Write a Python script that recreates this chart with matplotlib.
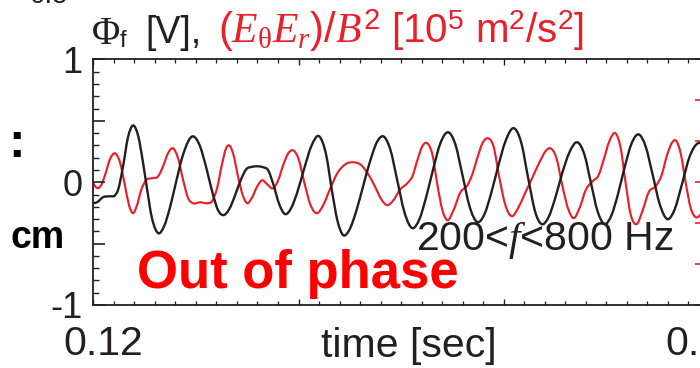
import numpy as np
import matplotlib
matplotlib.use("Agg")
import matplotlib.pyplot as plt
import matplotlib.transforms as mtransforms
from matplotlib.path import Path
from matplotlib.patches import PathPatch
from matplotlib.ticker import FixedLocator, FixedFormatter, NullFormatter

plt.rcParams['font.family'] = ['Liberation Sans', 'DejaVu Sans']
plt.rcParams['mathtext.fontset'] = 'custom'
plt.rcParams['mathtext.rm'] = 'Liberation Sans'
plt.rcParams['mathtext.it'] = 'Liberation Serif:italic'
plt.rcParams['mathtext.sf'] = 'Liberation Serif'
plt.rcParams['mathtext.bf'] = 'Liberation Sans:bold'

INK = '#231f20'
RED = '#e8202a'

# ---- band-passed (200-800 Hz) signals -------------------------------------
# floating potential, left axis [V]
phi_t_ms = [120.00, 120.18, 120.47, 120.81, 121.06, 121.20, 121.45, 121.69, 121.94, 122.18,
            122.42, 122.57, 122.86, 123.16, 123.45, 123.74, 124.03, 124.38, 124.86, 125.20,
            125.50, 125.84, 126.08, 126.33, 126.62, 126.91, 127.20, 127.50, 127.64, 128.03,
            128.28, 128.52, 128.77, 129.06, 129.35, 129.64, 129.94, 130.28, 130.62, 131.01,
            131.35, 131.64, 131.89, 132.18, 132.47, 132.81, 133.16, 133.50, 133.84, 134.13,
            134.47, 134.81, 135.16, 135.55, 135.89, 136.23, 136.57, 136.91, 137.30, 137.64,
            137.99, 138.33, 138.72, 139.06, 139.40, 139.74, 140.08, 140.52, 140.86, 141.20,
            141.55, 141.84, 142.18, 142.52, 142.86, 143.20, 143.60, 143.94, 144.23, 144.57,
            144.91, 145.25, 145.55, 145.89, 146.23, 146.57, 146.91, 147.25, 147.60, 147.99,
            148.33, 148.67, 149.06, 149.45, 149.84]
phi_v = [-0.171, -0.163, -0.122, -0.114, -0.106, -0.065, 0.130, 0.366, 0.463, 0.382,
         0.163, 0.000, -0.293, -0.415, -0.358, -0.203, 0.000, 0.228, 0.374, 0.293,
         0.122, -0.106, -0.228, -0.268, -0.220, -0.106, 0.024, 0.114, 0.122, 0.130,
         0.122, 0.098, -0.016, -0.179, -0.260, -0.211, -0.081, 0.114, 0.293, 0.374,
         0.220, -0.081, -0.309, -0.431, -0.390, -0.236, -0.024, 0.179, 0.333, 0.374,
         0.268, 0.016, -0.244, -0.374, -0.301, -0.114, 0.114, 0.317, 0.407, 0.309,
         0.057, -0.195, -0.325, -0.260, -0.081, 0.138, 0.333, 0.439, 0.317, 0.024,
         -0.252, -0.341, -0.285, -0.122, 0.081, 0.244, 0.325, 0.220, 0.008, -0.236,
         -0.341, -0.268, -0.106, 0.122, 0.317, 0.390, 0.293, 0.065, -0.179, -0.301,
         -0.220, -0.024, 0.211, 0.317, 0.293]

# Reynolds-stress proxy (E_theta E_r)/B^2, right axis [1e5 m^2/s^2]
rs_t_ms = [120.00, 120.13, 120.23, 120.38, 120.57, 120.81, 121.06, 121.30, 121.55, 121.74,
           121.94, 122.13, 122.33, 122.57, 122.86, 123.16, 123.40, 123.64, 123.89, 124.13,
           124.38, 124.62, 124.86, 125.20, 125.55, 125.79, 126.03, 126.28, 126.47, 126.62,
           126.81, 127.06, 127.30, 127.50, 127.74, 127.99, 128.23, 128.47, 128.77, 129.01,
           129.25, 129.50, 129.74, 129.99, 130.28, 130.57, 130.91, 131.20, 131.55, 131.89,
           132.28, 132.67, 133.06, 133.40, 133.74, 134.03, 134.33, 134.62, 134.96, 135.30,
           135.55, 135.79, 136.03, 136.28, 136.52, 136.77, 137.01, 137.25, 137.55, 137.89,
           138.23, 138.47, 138.72, 138.96, 139.25, 139.50, 139.79, 140.08, 140.38, 140.72,
           141.06, 141.40, 141.79, 142.03, 142.28, 142.57, 142.86, 143.16, 143.40, 143.69,
           143.99, 144.33, 144.62, 144.86, 145.16, 145.45, 145.69, 145.94, 146.18, 146.47,
           146.77, 147.06, 147.40, 147.69, 147.94, 148.18, 148.38, 148.62, 148.87, 149.11,
           149.35, 149.60, 149.84]
rs_v = [-0.024, -0.122, -0.146, -0.073, 0.171, 0.561, 0.707, 0.488, -0.098, -0.561,
        -0.756, -0.561, -0.195, 0.049, 0.098, 0.146, 0.390, 0.707, 0.829, 0.585,
        0.049, -0.390, -0.512, -0.488, -0.512, -0.463, -0.146, 0.463, 0.829, 0.902,
        0.707, 0.122, -0.341, -0.512, -0.366, -0.098, 0.049, -0.049, -0.146, 0.049,
        0.415, 0.707, 0.780, 0.585, 0.000, -0.537, -0.756, -0.561, -0.146, 0.220,
        0.439, 0.488, 0.415, 0.195, -0.122, -0.415, -0.561, -0.439, -0.171, -0.024,
        0.146, 0.537, 0.878, 0.951, 0.683, -0.073, -0.683, -0.927, -0.683, -0.244,
        -0.073, 0.195, 0.610, 0.951, 1.073, 0.878, 0.098, -0.561, -0.829, -0.610,
        -0.244, 0.122, 0.537, 0.756, 0.829, 0.585, -0.098, -0.683, -0.878, -0.634,
        -0.195, 0.024, 0.171, 0.537, 1.024, 1.195, 0.854, -0.024, -0.780, -1.024,
        -0.683, -0.244, -0.098, 0.171, 0.634, 0.951, 1.024, 0.707, -0.024, -0.634,
        -0.854, -0.780, -0.561]

x_major = [0.12, 0.13, 0.14, 0.15]
x_labels = {0.12: '0.12', 0.15: '0.15'}
y_major = [-1.0, -0.5, 0.0, 0.5, 1.0]
y_labels = ['-1', '', '0', '', '1']
y2_major = [-3, -2, -1, 0, 1, 2, 3]


def smooth_path(x, y):
    """Cubic Hermite curve through the samples as a Bezier path."""
    x = np.asarray(x, float)
    y = np.asarray(y, float)
    m = np.gradient(y, x)
    verts = [(x[0], y[0])]
    codes = [Path.MOVETO]
    for i in range(len(x) - 1):
        h = x[i + 1] - x[i]
        verts += [(x[i] + h / 3, y[i] + m[i] * h / 3),
                  (x[i + 1] - h / 3, y[i + 1] - m[i + 1] * h / 3),
                  (x[i + 1], y[i + 1])]
        codes += [Path.CURVE4] * 3
    return Path(verts, codes)


W, H = 700, 368
fig = plt.figure(figsize=(W / 100, H / 100), dpi=100)
x0, x1, ytop, ybot = 93.3, 709.0, 59.5, 305.0
ax = fig.add_axes([x0 / W, 1 - ybot / H, (x1 - x0) / W, (ybot - ytop) / H])
ax2 = ax.twinx()
ax.set_zorder(ax2.get_zorder() + 1)
ax.patch.set_visible(False)

t_phi = np.asarray(phi_t_ms) / 1000.0
t_rs = np.asarray(rs_t_ms) / 1000.0

ax2.add_patch(PathPatch(smooth_path(t_rs, rs_v), fill=False, edgecolor=RED,
                        lw=1.55, capstyle='round', joinstyle='round'))
ax.add_patch(PathPatch(smooth_path(t_phi, phi_v), fill=False, edgecolor=INK,
                       lw=1.7, capstyle='round', joinstyle='round'))

ax.set_xlim(0.12, 0.15)
ax.set_ylim(-1, 1)
ax2.set_ylim(-3, 3)

ax.xaxis.set_major_locator(FixedLocator(x_major))
ax.xaxis.set_minor_locator(FixedLocator(np.round(np.arange(0.12, 0.1505, 0.001), 4)))
ax.xaxis.set_major_formatter(NullFormatter())
ax.yaxis.set_major_locator(FixedLocator(y_major))
ax.yaxis.set_major_formatter(FixedFormatter(y_labels))
ax.yaxis.set_minor_locator(FixedLocator(np.round(np.arange(-1, 1.001, 0.1), 2)))

ax.tick_params(axis='x', which='major', direction='in', length=4.5, width=1.0,
               top=True, bottom=True, color=INK)
ax.tick_params(axis='x', which='minor', direction='in', length=2.8, width=0.9,
               top=True, bottom=True, color=INK)
ax.tick_params(axis='y', which='major', direction='in', length=8.5, width=1.2,
               left=True, right=False, labelsize=26, pad=8, color=INK, labelcolor=INK)
ax.tick_params(axis='y', which='minor', direction='in', length=4.5, width=1.0,
               left=True, right=False, color=INK)

ax2.yaxis.set_major_locator(FixedLocator(y2_major))
ax2.tick_params(axis='y', which='both', direction='in', length=10, width=1.2,
                color=RED, labelright=False, left=False)
ax2.tick_params(axis='x', which='both', bottom=False, top=False,
                labelbottom=False)
for side in ('left', 'top', 'bottom'):
    ax2.spines[side].set_visible(False)
ax2.spines['right'].set_color(INK)
ax2.spines['right'].set_linewidth(1.3)

for sp in ax.spines.values():
    sp.set_color(INK)
    sp.set_linewidth(1.3)
ax.spines['right'].set_visible(False)

# x tick labels (only the end values are labelled)
base = mtransforms.blended_transform_factory(ax.transData, ax.transAxes)
for xv, dx in ((0.12, 10), (0.15, -4)):
    off = mtransforms.ScaledTranslation(dx / 100, 0, fig.dpi_scale_trans)
    ax.text(xv, (ybot - 355) / (ybot - ytop), x_labels[xv], transform=base + off,
            ha='center', va='baseline', fontsize=29.5, color=INK, clip_on=False)

fig.text(408.5 / W, 1 - 357 / H, 'time [sec]', ha='center', va='baseline',
         fontsize=29.5, color=INK)

# header: black quantity
fig.text(91 / W, 1 - 44 / H, r'$\mathsf{\Phi}$', ha='left', va='baseline',
         fontsize=28, color=INK)
fig.text(120 / W, 1 - 47 / H, 'f', ha='left', va='baseline',
         fontsize=17, color=INK)
fig.text(145 / W, 1 - 43 / H, '[V],', ha='left', va='baseline',
         fontsize=27, color=INK)
# header: red quantity
fig.text(218 / W, 1 - 43 / H,
         r'$\mathit{(E}_{\mathsf{\theta}}\mathit{E}_{\mathit{r}}\mathit{)/B}^{2}$',
         ha='left', va='baseline', fontsize=30, color=RED)
fig.text(391 / W, 1 - 43 / H, r'[10$^{5}$ m$^{2}$/s$^{2}$]',
         ha='left', va='baseline', fontsize=29, color=RED)

fig.text(137 / W, 1 - 288 / H, 'Out of phase', ha='left', va='baseline',
         fontsize=38, fontweight='bold', color='#ff0000')
fig.text(416 / W, 1 - 250 / H, r'200<$\mathit{f}$<800 Hz', ha='left',
         va='baseline', fontsize=29.5, color=INK)

# fragments of the neighbouring panels
fig.text(8 / W, 1 - 157 / H, ':', ha='left', va='baseline', fontsize=36,
         fontweight='bold', color='black')
fig.text(10 / W, 1 - 248 / H, 'cm', ha='left', va='baseline', fontsize=27,
         fontweight='bold', color='black')
fig.text(30 / W, 1 - 3 / H, '0.5', ha='left', va='baseline', fontsize=20,
         color=INK)

fig.savefig('out.png', dpi=100)
